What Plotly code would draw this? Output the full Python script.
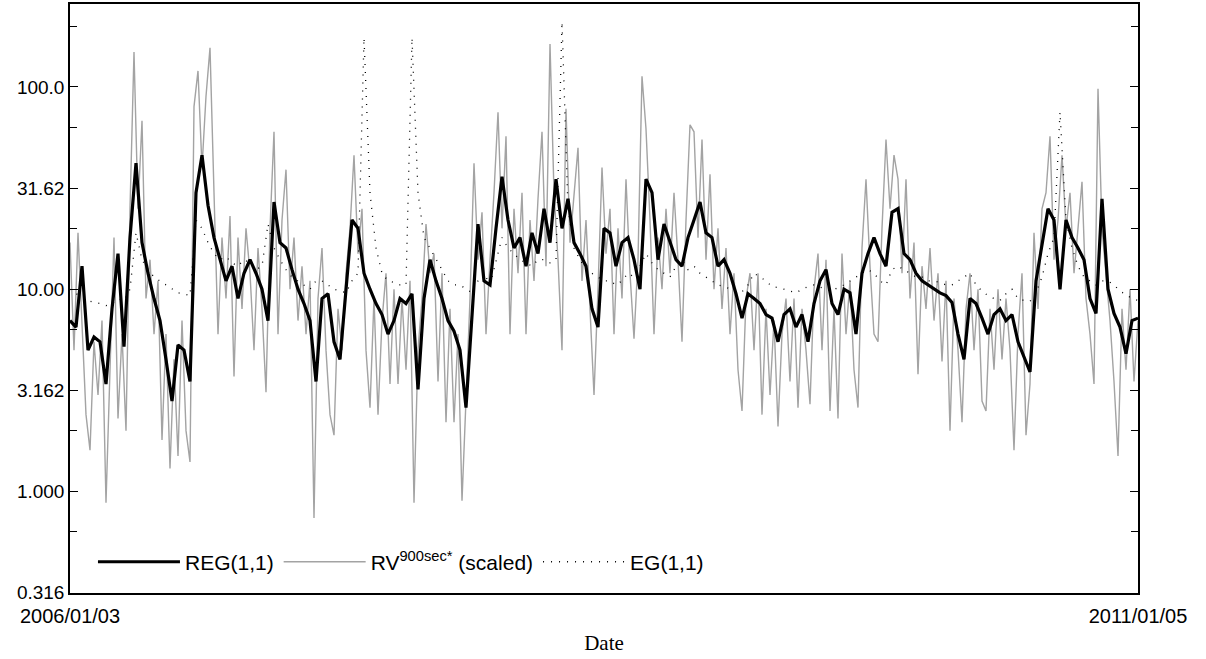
import plotly.graph_objects as go
import pandas as pd

START = "2006-01-03"
END = "2011-01-05"

# RV^900sec* (scaled) - grey, sampled roughly weekly
rv_scaled = [
    17, 5, 19, 7, 2.4, 1.6, 5.5, 3, 7, 0.88, 3.5, 18, 2.3, 6, 2.0, 25, 149, 25, 68, 9,
    14, 6, 11, 1.8, 6, 1.3, 4.5, 1.5, 7, 2, 1.4, 80, 120, 40, 90, 156, 30, 6, 18, 9,
    23, 3.7, 18, 8, 20, 12,
    5, 16, 8, 3.1, 20, 60, 6, 22, 39, 10, 18, 7, 13, 6, 11, 0.74, 9, 16, 5, 2.4,
    1.9, 8, 5, 12, 20, 46, 15, 25, 5, 2.6, 9, 2.4, 7, 12, 3.4, 10, 3.4, 9, 4, 11,
    0.88, 5, 9, 21, 12,
    15, 3.5, 12, 2.2, 8, 2.2, 6, 0.9, 3, 9, 42, 14, 24, 6, 14, 30, 75, 20, 57, 6,
    25, 12, 30, 6, 22, 11, 28, 60, 13, 163, 30, 14, 5, 78, 17, 30, 50, 11, 22, 8,
    3.0, 10, 40, 15,
    25, 6, 20, 9, 35, 12, 5.7, 14, 113, 62, 22, 6, 18, 10, 25, 12, 30, 14, 5.5, 22,
    65, 60, 18, 55, 14, 37, 10, 20, 8, 16, 6, 12, 4, 2.5, 9, 12, 5, 12, 2.4, 8,
    3, 7, 2.1, 6, 9, 3.5,
    9, 2.6, 8, 5, 2.7, 10, 15, 5, 14, 2.5, 8, 2.3, 15, 6, 11, 4, 2.6, 16, 35, 13,
    6, 5.5, 20, 55, 25, 46, 35, 12, 35, 9, 17, 3.8, 13, 8, 16, 7, 12, 4.4, 11, 2.0,
    9, 5, 2.2, 8, 12,
    5, 10, 2.8, 2.5, 8, 4, 10, 4.5, 9, 5, 1.6, 6, 12, 1.9, 3.4, 19, 8, 25, 30, 57,
    14, 22, 46, 20, 30, 12, 20, 34, 9, 6, 3.4, 98, 20, 12, 7, 3.5, 1.5, 8, 4, 10,
    3.5, 7,
]

# REG(1,1) - black thick
reg = [
    7, 6.5, 13, 5, 5.8, 5.5, 3.4, 8, 15, 5.2,
    18, 42, 17, 12, 9, 7, 4.5, 2.8, 5.3, 5,
    3.5, 30, 46, 26, 18, 14, 11, 13, 9, 12,
    14, 12, 10, 7, 27, 17, 16, 12.5, 10, 8.5,
    7, 3.5, 9, 9.5, 5.5, 4.5, 9.5, 22, 20, 12,
    10, 8.5, 7.5, 6, 7, 9, 8.5, 9.5, 3.2, 9,
    14, 11, 9, 7, 6.2, 5, 2.6, 7, 21, 11,
    10.5, 20, 36, 22, 16, 18, 13, 19, 15, 25,
    17, 35, 20, 28, 17, 15, 13, 8, 6.5, 20,
    19, 13, 17, 18, 14, 10, 35, 30, 14, 21,
    17, 14, 13, 18, 22, 27, 19, 18, 13, 14,
    12, 9.5, 7.2, 9.5, 9, 8.5, 7.5, 7.2, 5.5, 7.5,
    8, 6.5, 7.5, 5.5, 8.5, 11, 12.5, 8.5, 7.5, 10,
    9.6, 6, 12, 15, 18, 15, 13, 24, 25, 15,
    14, 12, 11, 10.5, 10, 9.6, 9.3, 8.6, 6, 4.5,
    9, 8.5, 7.2, 6, 7.5, 8, 7, 7.5, 5.5, 4.6,
    3.9, 11, 17, 25, 22, 10, 22, 18, 16, 14,
    9, 7.6, 28, 10, 7.6, 6.5, 4.8, 7, 7.2,
]

# EG(1,1) - dotted
eg = [
    10, 9.5, 9.2, 8.8, 8.6, 8.5, 8.3, 8.5, 9, 8.8,
    10, 19, 14, 12.5, 11.5, 11, 10.5, 10, 9.6, 9.5,
    9.3, 22, 20, 17, 15, 14, 14.5, 13.5, 13, 14,
    13.5, 12.5, 13, 21, 16, 14, 12.5, 11.5, 11, 10.5,
    10, 11, 11, 10.5, 10, 9.8, 9.6, 11, 12, 175,
    30, 16, 12, 11, 10.8, 10.5, 10.5, 175, 30, 18,
    16, 14, 12.5, 11, 10.5, 10.5, 10, 9.6, 11, 12,
    10.5, 14, 18, 16, 15, 14, 13.5, 13, 14, 14,
    13.5, 14, 210, 25, 16, 14, 12.5, 12, 11.5, 11,
    11, 10.5, 11, 12, 11.5, 13, 15, 13.5, 12.5, 12,
    11.5, 13, 14, 12.5, 13, 12, 11.5, 11, 10.5, 10.3,
    10, 9.8, 9.7, 10.5, 12, 11.5, 11, 10.3, 10.2, 10,
    9.8, 9.6, 10, 10.3, 10.5, 10.2, 10, 9.8, 10.2, 10.5,
    11, 11.5, 12, 12.5, 12, 11, 10.5, 12.5, 13, 12.5,
    12, 11.5, 11.5, 11, 11, 10.8, 10.5, 10.5, 11, 11.5,
    12, 10.5, 9.8, 9.3, 9, 8.8, 9.5, 10, 9, 8.8,
    8.7, 9.6, 11.5, 15, 18, 75, 22, 16, 13, 11.5,
    11, 10.5, 11, 11, 10.5, 9.8, 9.4, 9, 8.8,
]

Y_TICK_VALUES = [0.31623, 1.0, 3.1623, 10.0, 31.623, 100.0]
Y_TICK_TEXT = ["0.316", "1.000", "3.162", "10.00", "31.62", "100.0"]
Y_MINOR_VALUES = [0.6325, 2.0, 6.325, 20.0, 63.25, 200.0]
X_TICK_TEXT = ["2006/01/03", "2011/01/05"]

rv_dates = pd.date_range(START, END, periods=len(rv_scaled))
reg_dates = pd.date_range(START, END, periods=len(reg))
eg_dates = pd.date_range(START, END, periods=len(eg))

FONT = "Liberation Sans, Arial, Helvetica, sans-serif"

fig = go.Figure()
fig.add_trace(go.Scatter(
    x=rv_dates, y=rv_scaled, mode="lines", name="RV<sup>900sec*</sup> (scaled)",
    line=dict(color="#a3a3a3", width=1.4), legendrank=2,
))
fig.add_trace(go.Scatter(
    x=reg_dates, y=reg, mode="lines", name="REG(1,1)",
    line=dict(color="black", width=3.2), legendrank=1,
))
fig.add_trace(go.Scatter(
    x=eg_dates, y=eg, mode="lines", name="EG(1,1)",
    line=dict(color="black", width=1.3, dash="1px,7px"), legendrank=3,
))

fig.update_layout(
    width=1206, height=659,
    margin=dict(l=70, r=68, t=2, b=66),
    paper_bgcolor="white", plot_bgcolor="white",
    font=dict(family=FONT, size=21, color="black"),
    showlegend=True,
    legend=dict(
        orientation="h", x=0.0215, y=0.0525, xanchor="left", yanchor="middle",
        bgcolor="rgba(0,0,0,0)", font=dict(family=FONT, size=21),
        itemwidth=82, traceorder="normal",
    ),
    xaxis=dict(
        type="date", range=[START, END],
        tickmode="array", tickvals=[START, END], ticktext=X_TICK_TEXT,
        ticks="", showgrid=False, zeroline=False,
        showline=True, linecolor="black", linewidth=1.5, mirror=True,
        tickfont=dict(family=FONT, size=20), ticklabelstandoff=4,
        title=dict(text="Date", font=dict(family="Liberation Serif, DejaVu Serif, serif", size=21), standoff=10),
    ),
    yaxis=dict(
        type="log", range=[-0.5015, 2.41],
        tickmode="array", tickvals=Y_TICK_VALUES, ticktext=Y_TICK_TEXT,
        ticks="inside", ticklen=8, tickwidth=1.2, tickcolor="black",
        minor=dict(tickmode="array", tickvals=Y_MINOR_VALUES, ticks="inside", ticklen=7,
                   tickwidth=1, tickcolor="black", showgrid=False),
        showgrid=False, zeroline=False,
        showline=True, linecolor="black", linewidth=1.5, mirror="allticks",
        tickfont=dict(family=FONT, size=19),
    ),
)

fig.write_html("out.html")
